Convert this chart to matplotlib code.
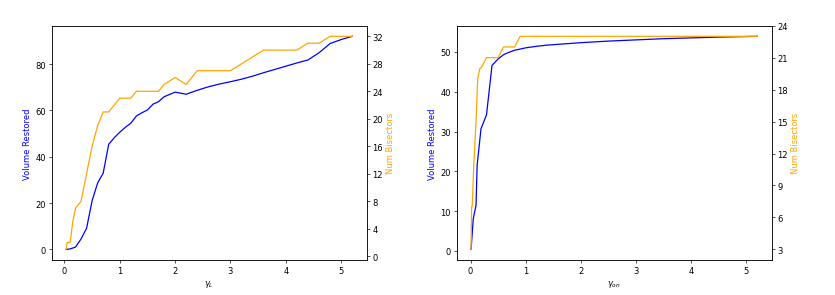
import matplotlib
matplotlib.use("Agg")
import matplotlib.pyplot as plt

# left panel: gamma_L sweep
gl_vol_x = [0.03, 0.1, 0.2, 0.3, 0.4, 0.5, 0.6, 0.7, 0.8, 0.9, 1.0, 1.1, 1.2, 1.3, 1.4,
            1.5, 1.6, 1.7, 1.8, 1.9, 2.0, 2.2, 2.4, 2.6, 2.8, 3.0, 3.2, 3.4, 3.6, 3.8,
            4.0, 4.2, 4.4, 4.6, 4.8, 5.0, 5.2]
gl_vol = [0, 0.2, 1.0, 4.5, 9.1, 21, 28.7, 32.9, 45.4, 48.2, 50.6, 52.7, 54.5, 57.6, 59.0,
          60.2, 62.7, 63.8, 65.9, 66.9, 67.9, 67.0, 68.7, 70.2, 71.4, 72.4, 73.5, 74.8, 76.3, 77.7,
          79.1, 80.5, 81.8, 84.9, 88.9, 90.6, 92.0]
gl_bis_x = [0.03, 0.05, 0.1, 0.12, 0.15, 0.2, 0.3, 0.4, 0.5, 0.6, 0.7, 0.8, 1.0, 1.2,
            1.3, 1.7, 1.8, 2.0, 2.2, 2.4, 3.0, 3.6, 4.2, 4.4, 4.6, 4.8, 5.2]
gl_bis = [1, 2, 2, 3, 5, 7, 8, 12, 16, 19, 21, 21, 23, 23,
          24, 24, 25, 26, 25, 27, 27, 30, 30, 31, 31, 32, 32]

# right panel: gamma_on sweep
gon_vol_x = [0.01, 0.05, 0.1, 0.12, 0.19, 0.29, 0.39, 0.5, 0.6, 0.7, 0.8, 0.9, 1.0, 1.2,
             1.4, 1.6, 1.8, 2.0, 2.5, 3.0, 3.5, 4.0, 4.5, 5.2]
gon_vol = [0.4, 8.1, 11.5, 21.5, 30.7, 34.2, 46.6, 48.2, 49.3, 49.9, 50.4, 50.7, 51.0, 51.4,
           51.7, 51.9, 52.1, 52.3, 52.7, 53.0, 53.3, 53.5, 53.7, 53.9]
gon_bis_x = [0.01, 0.02, 0.03, 0.06, 0.1, 0.13, 0.17, 0.19, 0.29, 0.5, 0.6, 0.8, 0.9, 5.2]
gon_bis = [3, 7, 7, 11, 15, 19, 20, 20, 21, 21, 22, 22, 23, 23]

# drawn at a larger size and lower dpi, like a downscaled default figure
fig = plt.figure(figsize=(13.917, 4.933), dpi=60)
ax1 = fig.add_axes([0.062, 0.118, 0.377, 0.792])
ax2 = fig.add_axes([0.547, 0.118, 0.377, 0.792])


def panel(ax, vx, vy, bx, by, xlabel, right_ticks):
    ax.plot(vx, vy, color="blue")
    ax.set_ylabel("Volume Restored", color="blue")
    ax.set_xlabel(xlabel)
    twin = ax.twinx()
    twin.plot(bx, by, color="orange")
    twin.set_ylabel("Num Bisectors", color="orange")
    twin.set_yticks(right_ticks)
    return twin


panel(ax1, gl_vol_x, gl_vol, gl_bis_x, gl_bis, r"$\gamma_L$", range(0, 33, 4))
panel(ax2, gon_vol_x, gon_vol, gon_bis_x, gon_bis, r"$\gamma_{on}$", range(3, 25, 3))

fig.savefig("out.png", dpi=60)
